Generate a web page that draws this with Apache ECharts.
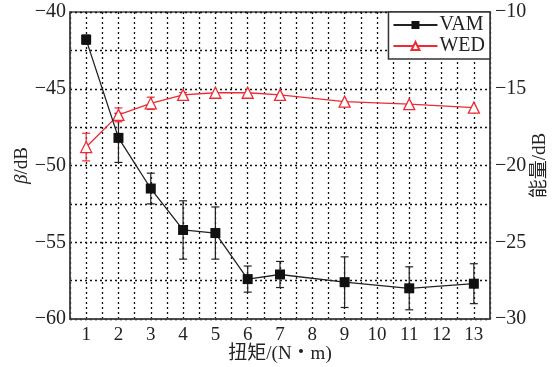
<!DOCTYPE html>
<html>
<head>
<meta charset="utf-8">
<script src="https://cdn.jsdelivr.net/npm/echarts@6/dist/echarts.min.js"></script>
<style>
  html, body { margin: 0; padding: 0; background: #fff; }
  #chart { width: 557px; height: 367px; }
</style>
</head>
<body>
<div id="chart"></div>
<script>
// torque values (N·m) on the x axis
const torque = [1, 2, 3, 4, 5, 6, 7, 9, 11, 13];
// VAM, left axis (dB)
const vam = [-41.8, -48.2, -51.5, -54.2, -54.4, -57.4, -57.1, -57.6, -58.0, -57.7];
const vamErr = [0.3, 1.6, 1.0, 1.9, 1.7, 0.85, 0.85, 1.65, 1.4, 1.3];
// WED, right axis (dB)
const wed = [-18.8, -16.7, -15.95, -15.4, -15.26, -15.26, -15.4, -15.84, -16.0, -16.23];
const wedErr = [0.9, 0.45, 0.4, 0.15, 0, 0, 0, 0, 0, 0];

const serif = "'Liberation Serif', 'Noto Sans CJK SC', serif";
const red = '#ee2a35';

function minusLabel(v) {
    if (v % 5 !== 0) return '';
    return v < 0 ? '\u2212' + Math.abs(v) : String(v);
}

function errorBars(color) {
    return function (params, api) {
        let x = api.value(0);
        let top = api.coord([x, api.value(2)]);
        let bot = api.coord([x, api.value(1)]);
        let w = 4;
        let style = { stroke: color, lineWidth: 1.2 };
        return {
            type: 'group',
            children: [
                { type: 'line', shape: { x1: top[0], y1: top[1], x2: bot[0], y2: bot[1] }, style: style },
                { type: 'line', shape: { x1: top[0] - w, y1: top[1], x2: top[0] + w, y2: top[1] }, style: style },
                { type: 'line', shape: { x1: bot[0] - w, y1: bot[1], x2: bot[0] + w, y2: bot[1] }, style: style }
            ]
        };
    };
}

let vamData = torque.map((t, i) => [t, vam[i]]);
let wedData = torque.map((t, i) => [t, wed[i]]);
let vamBars = torque.map((t, i) => [t, vam[i] - vamErr[i], vam[i] + vamErr[i]]);
let wedBars = torque.map((t, i) => [t, wed[i] - wedErr[i], wed[i] + wedErr[i]]).filter((d, i) => wedErr[i] > 0);

let gridLine = { show: true, lineStyle: { color: '#111', type: [2, 3], width: 1.3 } };

let chart = echarts.init(document.getElementById('chart'));
let option = {
    animation: false,
    textStyle: { fontFamily: serif },
    grid: {
        left: 70, right: 67, top: 12, bottom: 48,
        outerBoundsMode: 'none',
        containLabel: false,
        show: true, borderColor: '#444', borderWidth: 1.5, backgroundColor: 'transparent'
    },
    legend: {
        orient: 'vertical',
        right: 67, top: 12,
        backgroundColor: '#fff',
        borderColor: '#333',
        borderWidth: 1.5,
        borderRadius: 0,
        padding: [3, 5, 3, 4],
        itemGap: 1,
        itemWidth: 44,
        itemHeight: 10,
        textStyle: { fontFamily: serif, fontSize: 20, color: '#222', padding: [0, 0, 0, -3] },
        data: ['VAM', 'WED']
    },
    xAxis: {
        type: 'value',
        min: 0.5, max: 13.5, interval: 0.5,
        name: '扭矩/(N・m)',
        nameLocation: 'middle',
        nameGap: 26,
        nameMoveOverlap: false,
        nameTextStyle: { fontFamily: serif, fontSize: 19, color: '#222' },
        axisLine: { show: true, lineStyle: { color: '#444', width: 1.5 } },
        axisTick: { show: false },
        axisLabel: {
            fontFamily: serif, fontSize: 19, color: '#222', margin: 7,
            formatter: v => (v % 1 === 0 ? String(v) : '')
        },
        splitLine: gridLine
    },
    yAxis: [{
        type: 'value',
        min: -60, max: -40, interval: 2.5,
        name: '{b|β}/dB',
        nameLocation: 'middle',
        nameGap: 38,
        nameMoveOverlap: false,
        nameRotate: 90,
        nameTextStyle: {
            fontFamily: serif, fontSize: 19, color: '#222',
            rich: { b: { fontFamily: serif, fontStyle: 'italic', fontSize: 19, color: '#222' } }
        },
        axisLine: { show: true, lineStyle: { color: '#444', width: 1.5 } },
        axisTick: { show: false },
        axisLabel: { fontFamily: serif, fontSize: 20, color: '#222', margin: 4, formatter: minusLabel },
        splitLine: gridLine
    }, {
        type: 'value',
        min: -30, max: -10, interval: 2.5,
        position: 'right',
        name: '能量/dB',
        nameLocation: 'middle',
        nameGap: 41,
        nameMoveOverlap: false,
        nameRotate: 90,
        nameTextStyle: { fontFamily: serif, fontSize: 19, color: '#222' },
        axisLine: { show: true, lineStyle: { color: '#444', width: 1.5 } },
        axisTick: { show: false },
        axisLabel: { fontFamily: serif, fontSize: 20, color: '#222', margin: 5, formatter: minusLabel },
        splitLine: { show: false }
    }],
    series: [{
        type: 'custom',
        name: 'VAM bars',
        xAxisIndex: 0, yAxisIndex: 0,
        renderItem: errorBars('#222'),
        encode: { x: 0, y: [1, 2] },
        data: vamBars,
        z: 3
    }, {
        type: 'custom',
        name: 'WED bars',
        xAxisIndex: 0, yAxisIndex: 1,
        renderItem: errorBars(red),
        encode: { x: 0, y: [1, 2] },
        data: wedBars,
        z: 3
    }, {
        type: 'line',
        name: 'VAM',
        yAxisIndex: 0,
        data: vamData,
        symbol: 'rect',
        symbolSize: 10,
        lineStyle: { color: '#222', width: 1.3 },
        itemStyle: { color: '#111' },
        z: 5
    }, {
        type: 'line',
        name: 'WED',
        yAxisIndex: 1,
        data: wedData,
        symbol: 'triangle',
        symbolSize: 11,
        showAllSymbol: true,
        lineStyle: { color: red, width: 1.3 },
        itemStyle: { color: '#fff', borderColor: red, borderWidth: 1.3 },
        z: 4
    }]
};
chart.setOption(option);
</script>
</body>
</html>
